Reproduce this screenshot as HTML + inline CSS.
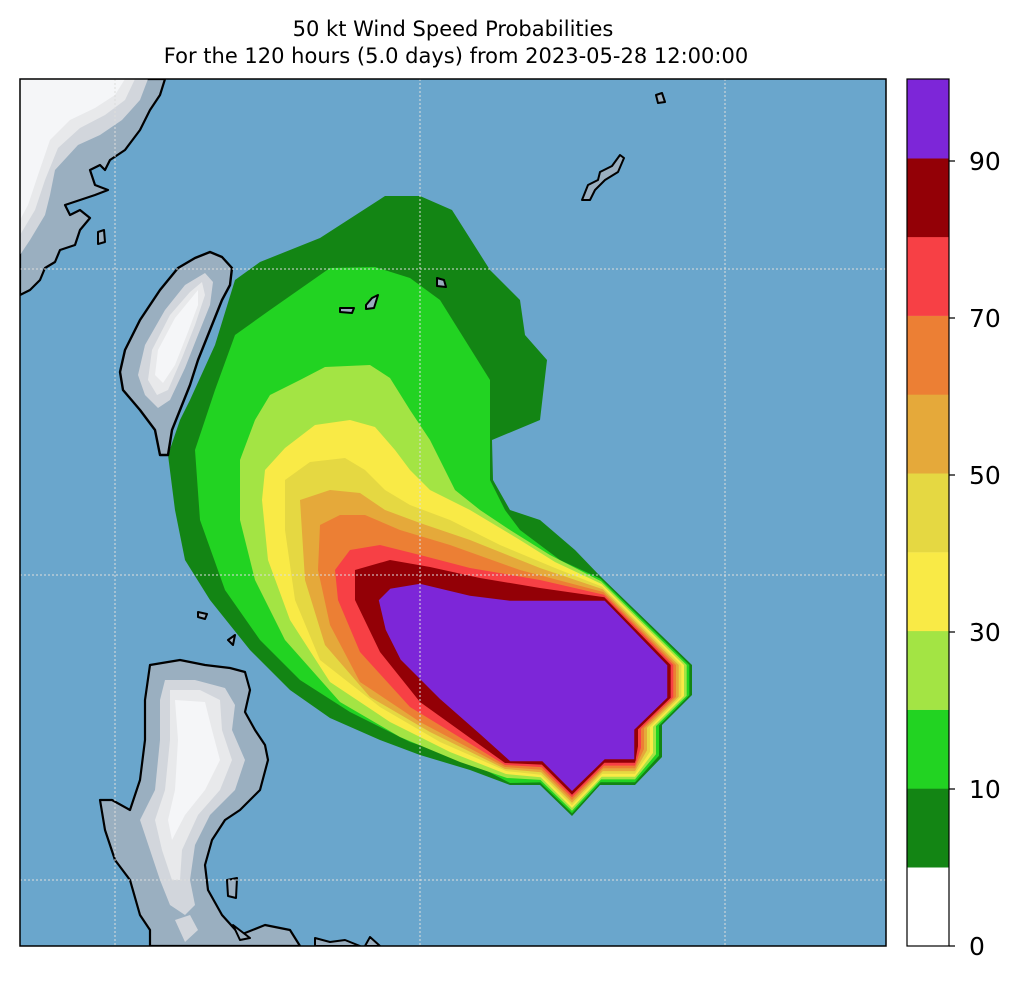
<!DOCTYPE html>
<html><head><meta charset="utf-8"><style>
body{margin:0;background:#fff;width:1024px;height:984px;overflow:hidden}
svg{position:absolute;left:0;top:0}
</style></head><body>
<svg width="1024" height="984" viewBox="0 0 1024 984">
<defs><clipPath id="c"><rect x="20" y="79" width="866" height="867"/></clipPath></defs>
<text x="453" y="36" font-size="21" text-anchor="middle" font-family="DejaVu Sans,sans-serif" fill="#000">50 kt Wind Speed Probabilities</text>
<text x="456" y="63" font-size="21" text-anchor="middle" font-family="DejaVu Sans,sans-serif" fill="#000">For the 120 hours (5.0 days) from 2023-05-28 12:00:00</text>
<g clip-path="url(#c)">
<rect x="20" y="79" width="866" height="867" fill="#6aa6cc"/>
<g>
<polygon fill="#138514" points="168,455 180,420 190,400 215,345 235,280 260,262 320,238 385,196 420,196 452,210 490,270 520,300 525,335 547,360 540,420 492,440 493,480 510,510 540,520 575,550 600,576 692,665 692,695 662,725 662,757 635,785 600,785 572,816 540,785 510,785 470,770 420,755 380,740 330,718 290,690 250,650 210,600 185,560 175,510"/>
<polygon fill="#22d322" points="195,450 215,390 235,335 270,310 330,268 375,267 410,278 440,300 465,340 490,380 490,430 490,480 505,510 520,530 560,560 600.6,578.7 689.3,665 689.3,695.3 659,725.6 659,755.7 635,782.2 600.6,782.2 572,813.3 540.2,782.4 510,783 470,762 410,742 350,712 300,680 260,640 225,590 200,520"/>
<polygon fill="#a3e444" points="240,460 255,420 270,395 300,380 325,367 370,365 390,378 410,410 430,440 440,460 455,490 480,510 510,530 550,555 601.1,581.3 686.7,665 686.7,695.7 656,726.1 656,754.3 635,779.4 601.1,779.4 572,810.7 540.4,779.9 507,778 460,762 400,737 340,702 285,640 255,580 240,520"/>
<polygon fill="#f9ea46" points="265,470 285,448 315,425 350,420 375,427 395,450 410,470 430,490 470,510 520,540 555,562 601.7,584 684,665 684,696 653,726.7 653,753 635,776.7 601.7,776.7 572,808 540.7,777.3 506,774 450,752 390,722 330,682 290,620 268,560 262,500"/>
<polygon fill="#e5d842" points="285,480 310,462 345,458 365,470 385,490 410,505 450,520 500,545 555,568 602.2,586.7 681.3,665 681.3,696.3 650,727.2 650,751.7 635,773.9 602.2,773.9 572,805.3 540.9,774.8 506,771 440,742 380,707 320,660 295,600 285,530"/>
<polygon fill="#e5a93a" points="300,500 330,490 360,493 385,510 420,523 470,540 540,568 602.8,589.3 678.7,665 678.7,696.7 647,727.8 647,750.3 635,771.1 602.8,771.1 572,802.7 541.1,772.2 505,769 430,732 370,697 325,645 305,580"/>
<polygon fill="#ec7f34" points="320,525 340,515 365,515 400,530 450,545 520,570 603.3,592 676,665 676,697 644,728.3 644,749 635,768.3 603.3,768.3 572,800 541.3,769.7 505,767 420,722 360,682 330,625 318,570"/>
<polygon fill="#f74045" points="335,570 350,550 380,545 420,555 470,568 540,580 603.9,594.7 673.3,665 673.3,697.3 641,728.9 641,747.7 635,765.6 603.9,765.6 572,797.3 541.6,767.1 505,765 410,707 360,652 338,600"/>
<polygon fill="#930006" points="355,570 390,560 430,567 480,578 540,588 604.4,597.3 670.7,665 670.7,697.7 638,729.4 638,746.3 635,762.8 604.4,762.8 572,794.7 541.8,764.6 505,763 420,702 380,652 355,600"/>
<polygon fill="#7d26d8" stroke="#930006" stroke-width="1.5" points="378,600 390,588 420,583 470,595 510,600 570,600 605,600 668,665 668,698 635,730 635,745 635,760 605,760 572,792 542,762 510,762 480,735 440,700 400,660 385,630"/>
</g>
<g stroke-linejoin="round">
<path d="M20,79 L165,79 L160,95 L150,110 L140,130 L125,150 L110,160 L105,170 L100,165 L90,170 L95,185 L108,190 L95,195 L80,200 L65,205 L70,215 L80,210 L90,218 L80,230 L75,245 L60,250 L55,262 L45,268 L40,280 L30,290 L20,295 Z" fill="#9aafc0" stroke="#000" stroke-width="2.2"/>
<path d="M20,79 L148,79 L140,100 L122,120 L100,135 L78,145 L55,170 L50,195 L45,215 L30,240 L20,255 Z" fill="#d2d6dc"/>
<path d="M20,79 L135,79 L125,100 L105,115 L80,128 L58,148 L45,180 L35,210 L20,235 Z" fill="#e8e9eb"/>
<path d="M20,79 L125,79 L115,95 L95,108 L70,120 L50,140 L38,175 L28,205 L20,220 Z" fill="#f5f6f8"/>
<path d="M98,232 L104,230 L105,242 L98,244 Z" fill="#9aafc0" stroke="#000" stroke-width="2"/>
<path d="M210,252 L222,257 L232,268 L230,285 L222,300 L210,330 L198,360 L190,385 L180,410 L172,430 L168,455 L160,455 L155,430 L140,410 L123,390 L120,372 L125,350 L140,320 L160,290 L178,268 L195,258 Z" fill="#9aafc0" stroke="#000" stroke-width="2.4"/>
<path d="M205,273 L213,282 L210,305 L198,335 L185,368 L170,400 L158,408 L145,395 L138,375 L145,345 L165,310 L185,285 Z" fill="#d2d6dc"/>
<path d="M202,282 L205,295 L195,325 L182,358 L168,390 L157,395 L148,380 L152,350 L170,315 L190,292 Z" fill="#e8e9eb"/>
<path d="M198,290 L198,305 L188,332 L175,365 L163,383 L155,375 L158,350 L175,318 Z" fill="#f5f6f8"/>
<path d="M150,665 L180,660 L205,665 L230,668 L245,672 L250,690 L245,712 L255,730 L265,745 L268,760 L260,790 L240,810 L225,820 L212,840 L205,865 L208,890 L222,915 L240,935 L265,925 L290,930 L300,946 L150,946 L150,930 L140,915 L130,880 L115,860 L105,830 L100,800 L112,800 L130,810 L140,780 L145,740 L145,700 Z" fill="#9aafc0" stroke="#000" stroke-width="2.2"/>
<path d="M165,680 L195,680 L225,688 L235,705 L232,730 L245,760 L235,790 L210,815 L195,845 L190,880 L195,905 L185,915 L170,905 L160,880 L150,850 L140,820 L155,790 L160,740 L160,700 Z" fill="#d2d6dc"/>
<path d="M170,690 L200,690 L220,700 L222,730 L232,760 L220,790 L198,815 L182,850 L180,880 L172,880 L162,850 L155,820 L165,790 L170,740 Z" fill="#e8e9eb"/>
<path d="M175,700 L205,702 L212,730 L220,760 L205,790 L185,815 L172,840 L168,820 L175,790 L178,740 Z" fill="#f5f6f8"/>
<path d="M175,920 L190,915 L198,930 L185,942 Z" fill="#d2d6dc"/>
<path d="M315,946 L315,938 L330,942 L345,940 L360,946 Z M365,946 L370,937 L380,946 Z" fill="#9aafc0" stroke="#000" stroke-width="2"/>
<path d="M227,880 L237,878 L236,898 L228,896 Z M233,925 L250,938 L240,940 Z" fill="#9aafc0" stroke="#000" stroke-width="2"/>
<path d="M198,612 L207,614 L205,619 L198,617 Z M228,640 L235,635 L233,645 Z" fill="#9aafc0" stroke="#000" stroke-width="2"/>
<path d="M340,308 L354,308 L352,313 L340,312 Z M366,305 L372,298 L378,295 L374,308 L366,309 Z M437,278 L444,280 L446,287 L437,286 Z" fill="#9aafc0" stroke="#000" stroke-width="2"/>
<path d="M656,95 L662,93 L665,102 L658,103 Z M582,200 L588,185 L598,180 L600,172 L612,166 L620,155 L624,158 L618,172 L605,180 L595,190 L590,200 Z" fill="#9aafc0" stroke="#000" stroke-width="2"/>
</g>
<path d="M115,79V946M420,79V946M725,79V946M20,269H886M20,575H886M20,880H886" stroke="#ddd" stroke-width="1" stroke-dasharray="2,2" fill="none"/>
</g>
<rect x="20" y="79" width="866" height="867" fill="none" stroke="#000" stroke-width="1.5"/>
<g>
<rect x="907" y="867.2" width="42" height="79" fill="#ffffff"/>
<rect x="907" y="788.5" width="42" height="79" fill="#138514"/>
<rect x="907" y="709.7" width="42" height="79" fill="#22d322"/>
<rect x="907" y="630.9" width="42" height="79" fill="#a3e444"/>
<rect x="907" y="552.1" width="42" height="79" fill="#f9ea46"/>
<rect x="907" y="473.3" width="42" height="79" fill="#e5d842"/>
<rect x="907" y="394.5" width="42" height="79" fill="#e5a93a"/>
<rect x="907" y="315.7" width="42" height="79" fill="#ec7f34"/>
<rect x="907" y="236.9" width="42" height="79" fill="#f74045"/>
<rect x="907" y="158.1" width="42" height="79" fill="#930006"/>
<rect x="907" y="79" width="42" height="79.5" fill="#7d26d8"/>
<rect x="907" y="79" width="42" height="867" fill="none" stroke="#000" stroke-width="1.2"/>
<path d="M949,946h6M949,789h6M949,632h6M949,475h6M949,318h6M949,161h6" stroke="#000" stroke-width="1.2"/>
<g font-size="25" font-family="DejaVu Sans,sans-serif" fill="#000">
<text x="969" y="955">0</text>
<text x="969" y="798">10</text>
<text x="969" y="641">30</text>
<text x="969" y="484">50</text>
<text x="969" y="327">70</text>
<text x="969" y="170">90</text>
</g>
</g>
</svg>
</body></html>
